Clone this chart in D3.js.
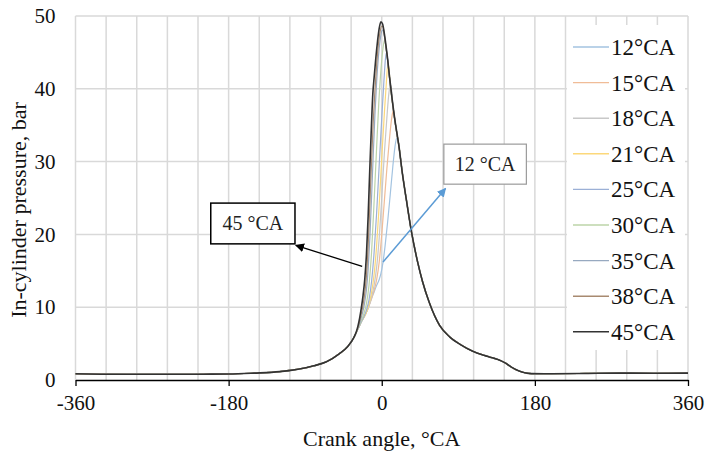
<!DOCTYPE html>
<html>
<head>
<meta charset="utf-8">
<script src="https://cdn.jsdelivr.net/npm/d3@7"></script>
<style>
  body { margin: 0; background: #fff; }
  svg { font-family: "Liberation Serif", "Times New Roman", serif; }
</style>
</head>
<body>
<svg id="chart" width="707" height="452"></svg>
<script>
// in-cylinder pressure vs crank angle, nine ignition timings

// shared compression part (all curves overlap here)
var compression = [[-360, 0.85], [-330, 0.8], [-300, 0.78], [-270, 0.78], [-240, 0.78], [-210, 0.8],
  [-180, 0.82], [-150, 0.95], [-120, 1.15], [-100, 1.45], [-80, 1.95], [-65, 2.5], [-50, 3.6],
  [-40, 4.6], [-33, 5.8]];

// shared expansion / exhaust part
var expansion = [[20, 32.3], [24, 28.6], [29, 24.7], [35, 20.3], [42, 16.3], [48, 13.5], [56, 10.6],
  [68, 7.5], [80, 5.9], [92, 4.9], [107, 3.95], [120, 3.4], [130, 3.05], [138, 2.75], [145, 2.35],
  [152, 1.8], [160, 1.3], [168, 1.0], [176, 0.88], [200, 0.86], [240, 0.9], [280, 0.95], [320, 0.93], [360, 0.95]];

// combustion part of each curve
var ca12 = [[-30, 6.5], [-28, 7.0], [-26, 7.5], [-24, 8.0], [-21, 8.6], [-18, 9.3], [-15, 10.2], [-12, 11.2],
  [-9, 12.1], [-6, 13.0], [-3, 13.8], [-1, 14.6], [1.5, 16.2], [4, 18.5], [7, 21.8], [10, 25.5], [13, 29.3],
  [15.5, 32], [17.5, 33.2], [19, 33]];
var ca15 = [[-30, 6.5], [-28, 7.0], [-26, 7.5], [-24, 8.0], [-21, 8.6], [-18, 9.3], [-15, 10.2], [-12, 11.2],
  [-9, 12.3], [-6, 13.8], [-3, 16.2], [0, 20], [3, 24.5], [6, 29], [9, 33], [11.5, 35.8], [13.5, 37], [15, 36],
  [16.5, 34.8], [18, 33.6]];
var ca18 = [[-30, 6.5], [-28, 7.0], [-26, 7.5], [-24, 8.0], [-21, 8.6], [-18, 9.3], [-15, 10.2], [-12, 11.4],
  [-9, 13], [-6, 15.5], [-3, 19.5], [0, 25], [3, 31], [6, 36], [8.5, 39.5], [10.2, 40.6], [11.5, 39.9], [13, 37.8],
  [16, 35.1], [18, 33.7]];
var ca21 = [[-30, 6.5], [-28, 7.0], [-26, 7.5], [-24, 8.0], [-21, 8.6], [-18, 9.3], [-15, 10.4], [-12, 12],
  [-9, 14.5], [-6, 18.5], [-3, 24], [0, 30.5], [3, 36.5], [5.5, 41], [7.2, 43.4], [8.3, 43], [9.5, 41.2], [12, 38.6],
  [16, 35.2], [18, 33.7]];
var ca25 = [[-30, 6.5], [-28, 7.0], [-26, 7.5], [-24, 8.0], [-21, 8.7], [-18, 9.6], [-15, 11], [-12, 13.5],
  [-9, 17.5], [-6, 23], [-3, 29.5], [0, 36], [2.5, 41], [4.5, 44.3], [5.8, 45], [7, 43.8], [9, 41.6], [12, 38.7],
  [16, 35.2], [18, 33.7]];
var ca30 = [[-30, 6.5], [-28, 7.05], [-26, 7.6], [-24, 8.2], [-21, 9.1], [-18, 10.5], [-15, 13], [-12, 17.5],
  [-9, 24.5], [-6, 32], [-3.5, 38], [-1, 42.5], [1.5, 45.6], [3.5, 46.8], [5, 45.6], [7, 43.8], [9, 41.6],
  [12, 38.7], [16, 35.2], [18, 33.7]];
var ca35 = [[-30, 6.5], [-28, 7.1], [-26, 7.8], [-24, 8.6], [-22, 9.5], [-20, 10.7], [-18, 12.4], [-16, 15.2],
  [-14, 19.5], [-12, 25], [-10, 31], [-8, 36.5], [-6, 41], [-4, 44.3], [-2, 46.6], [0, 47.9], [1.5, 48.1],
  [3, 47.3], [5, 45.7], [7, 43.9], [9, 41.7], [12, 38.7], [16, 35.2], [18, 33.7]];
var ca38 = [[-30, 6.55], [-28, 7.2], [-26, 8.1], [-24, 9.1], [-22, 10.3], [-20, 11.9], [-18, 14.3], [-16, 18.3],
  [-14, 24], [-12, 30], [-10, 35.5], [-8, 39.8], [-6, 43.3], [-4, 46], [-2, 47.8], [0, 48.6], [1.5, 48.5],
  [3, 47.4], [5, 45.7], [7, 43.9], [9, 41.7], [12, 38.7], [16, 35.2], [18, 33.7]];
var ca45 = [[-30, 6.6], [-28, 7.4], [-26, 8.5], [-24, 9.9], [-22, 11.6], [-20, 13.8], [-18, 17.2], [-16, 22.5],
  [-14, 29.2], [-12, 35.3], [-10.5, 39.3], [-9, 41.5], [-7, 44.2], [-5, 46.5], [-3, 48.3], [-1, 49.2], [1, 48.9],
  [3, 47.6], [5, 45.9], [7, 44], [9, 41.8], [12, 38.8], [16, 35.3], [18, 33.8]];

var seriesNames = ["12°CA", "15°CA", "18°CA", "21°CA", "25°CA", "30°CA", "35°CA", "38°CA", "45°CA"];
var seriesParts = [ca12, ca15, ca18, ca21, ca25, ca30, ca35, ca38, ca45];
var seriesColors = ["#a3c3e0", "#f0bc97", "#c8c8c8", "#fcd87a", "#9bb0d6", "#bcd4a8", "#97a9c0", "#a88a70", "#333333"];

var xTicks = [-360, -180, 0, 180, 360];
var yTicks = [0, 10, 20, 30, 40, 50];

var svg = d3.select("#chart");

var x = d3.scaleLinear().domain([-360, 360]).range([75.5, 688]);
var y = d3.scaleLinear().domain([0, 50]).range([380, 16]);

// gridlines: minor vertical every 36 °CA, horizontal every 10 bar
svg.append("g").selectAll("line")
  .data(d3.range(-360, 361, 36))
  .enter().append("line")
  .attr("x1", function(d){ return x(d); })
  .attr("x2", function(d){ return x(d); })
  .attr("y1", y(50)).attr("y2", y(0))
  .attr("stroke", "#d9d9d9").attr("stroke-width", 1.5);

svg.append("g").selectAll("line")
  .data(yTicks.slice(1))
  .enter().append("line")
  .attr("x1", x(-360)).attr("x2", x(360))
  .attr("y1", function(d){ return y(d); })
  .attr("y2", function(d){ return y(d); })
  .attr("stroke", "#d9d9d9").attr("stroke-width", 1.5);

// x axis (plain hyphen for negatives, like the original)
var xAxis = svg.append("g")
  .attr("transform", "translate(0," + y(0) + ")")
  .call(d3.axisBottom(x).tickValues(xTicks).tickFormat(function(d){ return String(d); })
    .tickSize(6).tickSizeOuter(0).tickPadding(9));
xAxis.select(".domain").attr("stroke", "#000").attr("stroke-width", 1.5);
xAxis.selectAll(".tick line").attr("stroke", "#000").attr("stroke-width", 1.3);
xAxis.selectAll("text").attr("font-size", 21).attr("fill", "#111")
  .style("font-family", "Liberation Serif");

// y axis (labels only)
var yAxis = svg.append("g")
  .attr("transform", "translate(" + x(-360) + ",0)")
  .call(d3.axisLeft(y).tickValues(yTicks).tickSize(0).tickPadding(20));
yAxis.select(".domain").remove();
yAxis.selectAll("text").attr("font-size", 21).attr("fill", "#111")
  .style("font-family", "Liberation Serif");

// curves
var line = d3.line()
  .x(function(d){ return x(d[0]); })
  .y(function(d){ return y(d[1]); })
  .curve(d3.curveMonotoneX);

seriesParts.forEach(function(part, i){
  var pts = compression.concat(part, expansion);
  svg.append("path")
    .datum(pts)
    .attr("d", line)
    .attr("fill", "none")
    .attr("stroke", seriesColors[i])
    .attr("stroke-width", i == 8 ? 1.6 : 1.2);
});

// legend
var legend = svg.append("g");
legend.append("rect")
  .attr("x", 567).attr("y", 25).attr("width", 118).attr("height", 325)
  .attr("fill", "#fff");
seriesNames.forEach(function(name, i){
  var ly = 47 + i * 35.6;
  legend.append("line")
    .attr("x1", 573).attr("x2", 609).attr("y1", ly).attr("y2", ly)
    .attr("stroke", seriesColors[i]).attr("stroke-width", i == 8 ? 1.6 : 1.4);
  legend.append("text")
    .attr("x", 611).attr("y", ly).attr("dy", "0.35em")
    .attr("font-size", 23).attr("fill", "#111")
    .text(name);
});

// annotations
var defs = svg.append("defs");
function marker(id, color){
  defs.append("marker")
    .attr("id", id).attr("viewBox", "0 0 10 10")
    .attr("refX", 9).attr("refY", 5)
    .attr("markerWidth", 9).attr("markerHeight", 9)
    .attr("markerUnits", "userSpaceOnUse")
    .attr("orient", "auto")
    .append("path").attr("d", "M0,0L10,5L0,10z").attr("fill", color);
}
marker("arrowBlack", "#000");
marker("arrowBlue", "#5b9bd5");

// 45 °CA box + arrow
svg.append("rect")
  .attr("x", x(-201)).attr("y", y(24.3))
  .attr("width", x(-102) - x(-201)).attr("height", y(18.7) - y(24.3))
  .attr("fill", "#fff").attr("stroke", "#000").attr("stroke-width", 1.5);
svg.append("text")
  .attr("x", x(-151.5)).attr("y", y(21.5)).attr("dy", "0.35em")
  .attr("text-anchor", "middle").attr("font-size", 20).attr("fill", "#222")
  .text("45 °CA");
svg.append("line")
  .attr("x1", x(-23)).attr("y1", y(15.6))
  .attr("x2", x(-101)).attr("y2", y(18.5))
  .attr("stroke", "#000").attr("stroke-width", 1.3)
  .attr("marker-end", "url(#arrowBlack)");

// 12 °CA box + arrow
svg.append("rect")
  .attr("x", x(73)).attr("y", y(32.4))
  .attr("width", x(170) - x(73)).attr("height", y(26.9) - y(32.4))
  .attr("fill", "#fff").attr("stroke", "#9a9a9a").attr("stroke-width", 1.2);
svg.append("text")
  .attr("x", x(121.5)).attr("y", y(29.65)).attr("dy", "0.35em")
  .attr("text-anchor", "middle").attr("font-size", 20).attr("fill", "#222")
  .text("12 °CA");
svg.append("line")
  .attr("x1", x(1.5)).attr("y1", y(16.2))
  .attr("x2", x(75)).attr("y2", y(26.3))
  .attr("stroke", "#5b9bd5").attr("stroke-width", 1.5)
  .attr("marker-end", "url(#arrowBlue)");

// axis titles
svg.append("text")
  .attr("x", x(0)).attr("y", 438).attr("dy", "0.35em")
  .attr("text-anchor", "middle").attr("font-size", 22).attr("fill", "#111")
  .text("Crank angle, °CA");

svg.append("text")
  .attr("transform", "translate(18,210) rotate(-90)")
  .attr("dy", "0.35em")
  .attr("text-anchor", "middle").attr("font-size", 22).attr("fill", "#111")
  .text("In-cylinder pressure, bar");
</script>
</body>
</html>
